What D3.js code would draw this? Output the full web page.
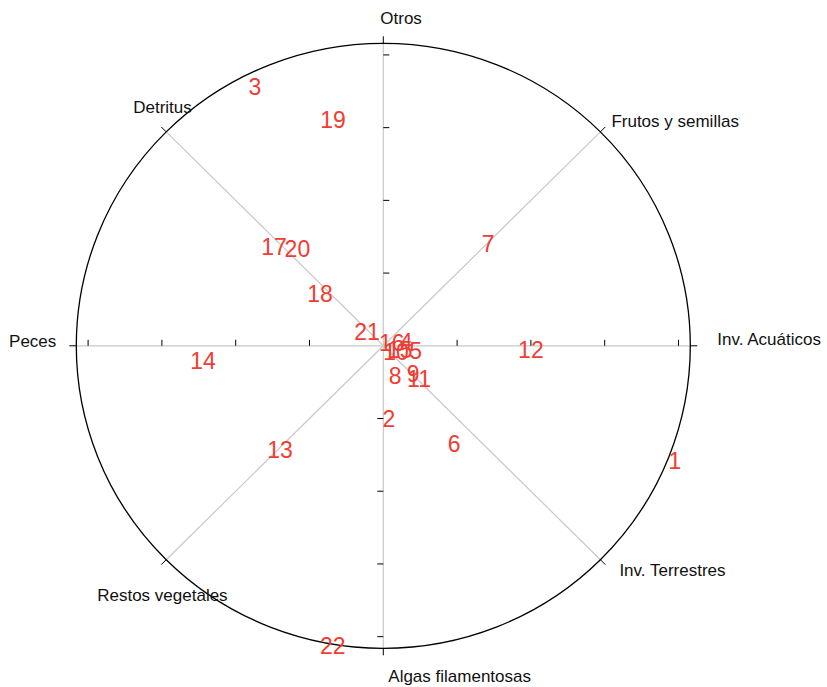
<!DOCTYPE html>
<html>
<head>
<meta charset="utf-8">
<script src="https://cdn.jsdelivr.net/npm/d3@7"></script>
<style>
  body { margin: 0; background: #fff; }
  text { font-family: "Liberation Sans", Arial, sans-serif; }
</style>
</head>
<body>
<div id="chart"></div>
<script>
// axis categories, angle in degrees (counter-clockwise from the right)
var categories = ['Inv. Acuáticos', 'Frutos y semillas', 'Otros', 'Detritus',
                  'Peces', 'Restos vegetales', 'Algas filamentosas', 'Inv. Terrestres'];
var angles = [0, 45, 90, 135, 180, 225, 270, 315];

// tick positions along the horizontal / vertical axes
var tickValues = [0.25, 0.5, 0.75, 1.0];

// sample points (label, x, y)
var pointLabels = ['1','2','3','4','5','6','7','8','9','10','11',
                   '12','13','14','15','16','17','18','19','20','21','22'];
var pointX = [0.988, 0.019, -0.435, 0.077, 0.110, 0.240, 0.355, 0.040, 0.101, 0.043, 0.121,
              0.500, -0.350, -0.611, 0.056, 0.029, -0.370, -0.214, -0.170, -0.291, -0.055, -0.171];
var pointY = [-0.396, -0.252, 0.889, 0.013, -0.018, -0.339, 0.350, -0.104, -0.097, -0.021, -0.114,
              -0.014, -0.358, -0.052, -0.014, 0.010, 0.341, 0.178, 0.776, 0.334, 0.047, -1.032];

var R = 1.04;
var width = 827, height = 687;
var cx = 383.3, cy = 345.8, rx = 307, ry = 302.5;

var svg = d3.select('#chart').append('svg')
    .attr('width', width).attr('height', height);

var x = d3.scaleLinear().domain([-R, R]).range([cx - rx, cx + rx]);
var y = d3.scaleLinear().domain([-R, R]).range([cy + ry, cy - ry]);

// label placement relative to the end of each axis
var labelPos = [
  {dx: 27, dy: -1, anchor: 'start'},
  {dx: 11, dy: -5, anchor: 'start'},
  {dx: -3, dy: -19, anchor: 'start'},
  {dx: -33, dy: -19, anchor: 'start'},
  {dx: -20, dy: 1, anchor: 'end'},
  {dx: -69, dy: 41, anchor: 'start'},
  {dx: 5, dy: 34, anchor: 'start'},
  {dx: 19, dy: 16, anchor: 'start'}
];

var axes = categories.map(function(c, i) {
  var a = angles[i] * Math.PI / 180;
  return {name: c, cos: Math.cos(a), sin: Math.sin(a), pos: labelPos[i]};
});

// grey axis lines
svg.selectAll('line.axis').data(axes).enter().append('line')
  .attr('class', 'axis')
  .attr('x1', x(0)).attr('y1', y(0))
  .attr('x2', function(d) { return x(R * d.cos); })
  .attr('y2', function(d) { return y(R * d.sin); })
  .attr('stroke', '#c8c8c8').attr('stroke-width', 1.2);

// outer circle
svg.append('ellipse')
  .attr('cx', x(0)).attr('cy', y(0))
  .attr('rx', x(R) - x(0)).attr('ry', y(0) - y(R))
  .attr('fill', 'none').attr('stroke', '#000').attr('stroke-width', 1.3);

// black end ticks
svg.selectAll('line.end').data(axes).enter().append('line')
  .attr('class', 'end')
  .attr('x1', function(d) { return x(R * d.cos); })
  .attr('y1', function(d) { return y(R * d.sin); })
  .attr('x2', function(d) { return x(R * d.cos) + 7 * d.cos; })
  .attr('y2', function(d) { return y(R * d.sin) - 7 * d.sin; })
  .attr('stroke', '#000').attr('stroke-width', 1);

// ticks on the horizontal axis (pointing up)
var hTicks = tickValues.concat(tickValues.map(function(v) { return -v; }));
svg.selectAll('line.htick').data(hTicks).enter().append('line')
  .attr('class', 'htick')
  .attr('x1', function(d) { return x(d); }).attr('x2', function(d) { return x(d); })
  .attr('y1', y(0)).attr('y2', y(0) - 6)
  .attr('stroke', '#000').attr('stroke-width', 1);

// ticks on the vertical axis (right above, left below)
svg.selectAll('line.vtick').data(hTicks).enter().append('line')
  .attr('class', 'vtick')
  .attr('x1', x(0))
  .attr('x2', function(d) { return d > 0 ? x(0) + 6 : x(0) - 6; })
  .attr('y1', function(d) { return y(d); }).attr('y2', function(d) { return y(d); })
  .attr('stroke', '#000').attr('stroke-width', 1);

// category labels
svg.selectAll('text.cat').data(axes).enter().append('text')
  .attr('class', 'cat')
  .attr('x', function(d) { return x(R * d.cos) + d.pos.dx; })
  .attr('y', function(d) { return y(R * d.sin) + d.pos.dy; })
  .attr('text-anchor', function(d) { return d.pos.anchor; })
  .attr('font-size', '17px')
  .attr('fill', '#111')
  .text(function(d) { return d.name; });

// sample labels
var points = pointLabels.map(function(l, i) { return {label: l, x: pointX[i], y: pointY[i]}; });
svg.selectAll('text.pt').data(points).enter().append('text')
  .attr('class', 'pt')
  .attr('x', function(d) { return x(d.x); })
  .attr('y', function(d) { return y(d.y); })
  .attr('dy', '0.35em')
  .attr('text-anchor', 'middle')
  .attr('font-size', '23px')
  .attr('fill', '#f03c32')
  .text(function(d) { return d.label; });
</script>
</body>
</html>
